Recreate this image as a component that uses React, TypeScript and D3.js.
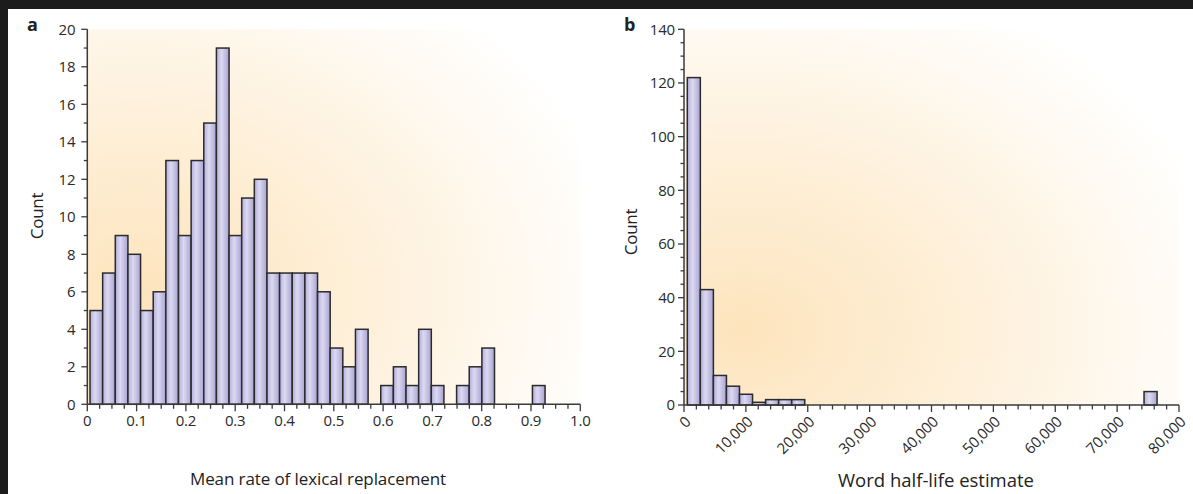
import React from "react";
import * as d3 from "d3";

// ---- Data ----
const countsA = [5, 7, 9, 8, 5, 6, 13, 9, 13, 15, 19, 9, 11, 12, 7, 7, 7, 7, 6, 3, 2, 4, 0, 1, 2, 1, 4, 1, 0, 1, 2, 3, 0, 0, 0, 1];
const binStartA = 0.0055;
const binWidthA = 0.02564;
const xTicksA = [0, 0.1, 0.2, 0.3, 0.4, 0.5, 0.6, 0.7, 0.8, 0.9, 1.0];
const xTickLabelsA = ["0", "0.1", "0.2", "0.3", "0.4", "0.5", "0.6", "0.7", "0.8", "0.9", "1.0"];
const yTicksA = [0, 2, 4, 6, 8, 10, 12, 14, 16, 18, 20];

const countsB = [122, 43, 11, 7, 4, 1, 2, 2, 2, 0, 0, 0, 0, 0, 0, 0, 0, 0, 0, 0, 0, 0, 0, 0, 0, 0, 0, 0, 0, 0, 0, 0, 0, 0, 0, 5];
const binStartB = 533;
const binWidthB = 2109;
const xTicksB = [0, 10000, 20000, 30000, 40000, 50000, 60000, 70000, 80000];
const yTicksB = [0, 20, 40, 60, 80, 100, 120, 140];

const FONT = "'Open Sans', 'Noto Sans', sans-serif";
const AXIS = "#3a3a3a";

export default function App() {
  const xA = d3.scaleLinear().domain([0, 1]).range([87.3, 580.3]);
  const yA = d3.scaleLinear().domain([0, 20]).range([404.3, 29.3]);
  const xB = d3.scaleLinear().domain([0, 80000]).range([684, 1179]);
  const yB = d3.scaleLinear().domain([0, 140]).range([405, 29.3]);

  const minorXA = d3.range(0, 1.0001, 0.025);
  const minorYA = d3.range(0, 21, 1);
  const minorXB = d3.range(0, 80001, 2000);
  const minorYB = d3.range(0, 141, 5);
  const fmtB = d3.format(",");
  const tickFS = 15;
  const tickLS = -0.2;
  const tickFill = "#2a2a2a";

  return (
    <svg
      width={1193}
      height={494}
      style={{ position: "fixed", left: 0, top: 0 }}
      fontFamily={FONT}
    >
      <defs>
        <radialGradient id="bgA" cx="0.1" cy="0.7" r="1.0" fx="0.1" fy="0.7">
          <stop offset="0" stopColor="#fde4bd" />
          <stop offset="0.5" stopColor="#fef1dc" />
          <stop offset="1" stopColor="#ffffff" />
        </radialGradient>
        <radialGradient id="bgB" cx="0.12" cy="0.8" r="1.0" fx="0.12" fy="0.8">
          <stop offset="0" stopColor="#fde4bd" />
          <stop offset="0.5" stopColor="#fef1dc" />
          <stop offset="1" stopColor="#ffffff" />
        </radialGradient>
        <linearGradient id="barFill" x1="0" x2="1" y1="0" y2="0">
          <stop offset="0" stopColor="#b3aedb" />
          <stop offset="0.4" stopColor="#dcd9f1" />
          <stop offset="1" stopColor="#a9a3d2" />
        </linearGradient>
      </defs>
      <rect x={0} y={0} width={1193} height={494} fill="#1c1c1c" />
      <rect x={8} y={9} width={1185} height={485} fill="#ffffff" />

      {/* Panel a */}
      <rect x={xA(0)} y={yA(20)} width={xA(1) - xA(0)} height={yA(0) - yA(20)} fill="url(#bgA)" />
      {countsA.map((c, i) =>
        c > 0 ? (
          <rect
            key={i}
            x={xA(binStartA + i * binWidthA)}
            y={yA(c)}
            width={xA(binStartA + (i + 1) * binWidthA) - xA(binStartA + i * binWidthA)}
            height={yA(0) - yA(c)}
            fill="url(#barFill)"
            stroke="#2b2b2b"
            strokeWidth={1.5}
          />
        ) : null
      )}
      <line x1={xA(0)} x2={xA(0)} y1={yA(20)} y2={yA(0)} stroke={AXIS} strokeWidth={1.5} />
      <line x1={xA(0)} x2={xA(1)} y1={yA(0)} y2={yA(0)} stroke={AXIS} strokeWidth={1.5} />
      {minorYA.map((v) => (
        <line key={"mya" + v} x1={xA(0) - (v % 2 === 0 ? 6 : 3.5)} x2={xA(0)} y1={yA(v)} y2={yA(v)} stroke={AXIS} strokeWidth={1.3} />
      ))}
      {minorXA.map((v, i) => (
        <line key={"mxa" + i} x1={xA(v)} x2={xA(v)} y1={yA(0)} y2={yA(0) + (i % 4 === 0 ? 7 : 4.5)} stroke={AXIS} strokeWidth={1.3} />
      ))}
      {yTicksA.map((v) => (
        <text key={"ya" + v} x={xA(0) - 12} y={yA(v)} dy="0.36em" textAnchor="end" fontSize={tickFS} fill={tickFill} letterSpacing={tickLS}>
          {v}
        </text>
      ))}
      {xTicksA.map((v, i) => (
        <text key={"xa" + v} x={xA(v)} y={yA(0) + 22} textAnchor="middle" fontSize={tickFS} fill={tickFill} letterSpacing={tickLS}>
          {xTickLabelsA[i]}
        </text>
      ))}
      <text x={37} y={216} transform="rotate(-90 37 216)" textAnchor="middle" dy="0.35em" fontSize={17} fill="#222" letterSpacing={-0.3}>
        Count
      </text>
      <text x={318} y={485} textAnchor="middle" fontSize={17} fill="#222" letterSpacing={-0.1}>
        Mean rate of lexical replacement
      </text>
      <text x={27} y={31} fontSize={18} fontWeight="bold" fill="#222">
        a
      </text>

      {/* Panel b */}
      <rect x={xB(0)} y={yB(140)} width={xB(80000) - xB(0)} height={yB(0) - yB(140)} fill="url(#bgB)" />
      {countsB.map((c, i) =>
        c > 0 ? (
          <rect
            key={i}
            x={xB(binStartB + i * binWidthB)}
            y={yB(c)}
            width={xB(binStartB + (i + 1) * binWidthB) - xB(binStartB + i * binWidthB)}
            height={yB(0) - yB(c)}
            fill="url(#barFill)"
            stroke="#2b2b2b"
            strokeWidth={1.5}
          />
        ) : null
      )}
      <line x1={xB(0)} x2={xB(0)} y1={yB(140)} y2={yB(0)} stroke={AXIS} strokeWidth={1.5} />
      <line x1={xB(0)} x2={xB(80000)} y1={yB(0)} y2={yB(0)} stroke={AXIS} strokeWidth={1.5} />
      {minorYB.map((v) => (
        <line key={"myb" + v} x1={xB(0) - (v % 20 === 0 ? 6 : 3.5)} x2={xB(0)} y1={yB(v)} y2={yB(v)} stroke={AXIS} strokeWidth={1.3} />
      ))}
      {minorXB.map((v, i) => (
        <line key={"mxb" + i} x1={xB(v)} x2={xB(v)} y1={yB(0)} y2={yB(0) + (i % 5 === 0 ? 7 : 4.5)} stroke={AXIS} strokeWidth={1.3} />
      ))}
      {yTicksB.map((v) => (
        <text key={"yb" + v} x={xB(0) - 9} y={yB(v)} dy="0.36em" textAnchor="end" fontSize={tickFS} fill={tickFill} letterSpacing={tickLS}>
          {v}
        </text>
      ))}
      {xTicksB.map((v) => (
        <text
          key={"xb" + v}
          x={xB(v) + 4}
          y={yB(0) + 14}
          transform={`rotate(-45 ${xB(v) + 4} ${yB(0) + 14})`}
          textAnchor="end"
          dy="0.35em"
          fontSize={tickFS}
          fill={tickFill}
          letterSpacing={tickLS}
        >
          {fmtB(v)}
        </text>
      ))}
      <text x={631} y={232} transform="rotate(-90 631 232)" textAnchor="middle" dy="0.35em" fontSize={17} fill="#222" letterSpacing={-0.3}>
        Count
      </text>
      <text x={936} y={487} textAnchor="middle" fontSize={18.5} fill="#222" letterSpacing={0}>
        Word half-life estimate
      </text>
      <text x={624} y={31} fontSize={18} fontWeight="bold" fill="#222">
        b
      </text>
    </svg>
  );
}
